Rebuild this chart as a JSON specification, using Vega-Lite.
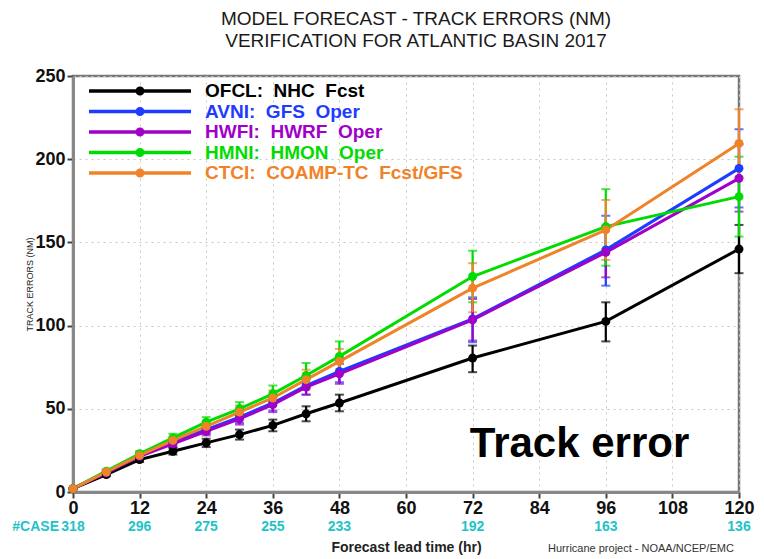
{
  "$schema": "https://vega.github.io/schema/vega-lite/v6.json",
  "width": 666,
  "height": 416,
  "autosize": "none",
  "padding": {"left": 73, "top": 76, "right": 25, "bottom": 67},
  "background": "white",
  "title": {
    "text": ["MODEL FORECAST - TRACK ERRORS (NM)", "VERIFICATION FOR ATLANTIC BASIN 2017"],
    "anchor": "middle",
    "dx": 10,
    "offset": 16,
    "fontSize": 19,
    "font": "Liberation Sans",
    "fontWeight": "normal",
    "color": "#1a1a1a",
    "lineHeight": 22
  },
  "config": {
    "view": {"stroke": "#777777", "strokeWidth": 2.5},
    "font": "Liberation Sans"
  },
  "layer": [
    {
      "data": {
        "values": [
          {"series": "OFCL: NHC Fcst", "hour": 0, "error": 2, "lo": 2, "hi": 2},
          {"series": "OFCL: NHC Fcst", "hour": 6, "error": 10.5, "lo": 9.5, "hi": 11.5},
          {"series": "OFCL: NHC Fcst", "hour": 12, "error": 19.5, "lo": 18, "hi": 21},
          {"series": "OFCL: NHC Fcst", "hour": 18, "error": 24.5, "lo": 22.5, "hi": 26.5},
          {"series": "OFCL: NHC Fcst", "hour": 24, "error": 29.5, "lo": 27, "hi": 32},
          {"series": "OFCL: NHC Fcst", "hour": 30, "error": 34.5, "lo": 31.5, "hi": 37.5},
          {"series": "OFCL: NHC Fcst", "hour": 36, "error": 40, "lo": 36.5, "hi": 43.5},
          {"series": "OFCL: NHC Fcst", "hour": 42, "error": 47, "lo": 42.5, "hi": 51.5},
          {"series": "OFCL: NHC Fcst", "hour": 48, "error": 53.5, "lo": 48.5, "hi": 58.5},
          {"series": "OFCL: NHC Fcst", "hour": 72, "error": 80.5, "lo": 72, "hi": 88},
          {"series": "OFCL: NHC Fcst", "hour": 96, "error": 102.5, "lo": 90.5, "hi": 114},
          {"series": "OFCL: NHC Fcst", "hour": 120, "error": 146, "lo": 131.5, "hi": 160.5},
          {"series": "AVNI: GFS Oper", "hour": 0, "error": 2, "lo": 2, "hi": 2},
          {"series": "AVNI: GFS Oper", "hour": 6, "error": 12, "lo": 11, "hi": 13},
          {"series": "AVNI: GFS Oper", "hour": 12, "error": 22, "lo": 20.5, "hi": 23.5},
          {"series": "AVNI: GFS Oper", "hour": 18, "error": 30, "lo": 28, "hi": 32},
          {"series": "AVNI: GFS Oper", "hour": 24, "error": 37.5, "lo": 35, "hi": 40},
          {"series": "AVNI: GFS Oper", "hour": 30, "error": 45, "lo": 41.5, "hi": 48.5},
          {"series": "AVNI: GFS Oper", "hour": 36, "error": 53.5, "lo": 49, "hi": 58},
          {"series": "AVNI: GFS Oper", "hour": 42, "error": 64, "lo": 58.5, "hi": 69.5},
          {"series": "AVNI: GFS Oper", "hour": 48, "error": 72.5, "lo": 66, "hi": 79},
          {"series": "AVNI: GFS Oper", "hour": 72, "error": 104, "lo": 90, "hi": 117},
          {"series": "AVNI: GFS Oper", "hour": 96, "error": 145.5, "lo": 124, "hi": 166},
          {"series": "AVNI: GFS Oper", "hour": 120, "error": 194.5, "lo": 171, "hi": 218},
          {"series": "HWFI: HWRF Oper", "hour": 0, "error": 2, "lo": 2, "hi": 2},
          {"series": "HWFI: HWRF Oper", "hour": 6, "error": 11.5, "lo": 10.5, "hi": 12.5},
          {"series": "HWFI: HWRF Oper", "hour": 12, "error": 21.5, "lo": 20, "hi": 23},
          {"series": "HWFI: HWRF Oper", "hour": 18, "error": 29, "lo": 27, "hi": 31},
          {"series": "HWFI: HWRF Oper", "hour": 24, "error": 36.5, "lo": 34, "hi": 39},
          {"series": "HWFI: HWRF Oper", "hour": 30, "error": 44, "lo": 40.5, "hi": 47.5},
          {"series": "HWFI: HWRF Oper", "hour": 36, "error": 52.5, "lo": 48, "hi": 57},
          {"series": "HWFI: HWRF Oper", "hour": 42, "error": 63, "lo": 58.5, "hi": 68},
          {"series": "HWFI: HWRF Oper", "hour": 48, "error": 71, "lo": 65, "hi": 77},
          {"series": "HWFI: HWRF Oper", "hour": 72, "error": 103.5, "lo": 91, "hi": 116},
          {"series": "HWFI: HWRF Oper", "hour": 96, "error": 144, "lo": 129, "hi": 160},
          {"series": "HWFI: HWRF Oper", "hour": 120, "error": 188.5, "lo": 168.5, "hi": 209},
          {"series": "HMNI: HMON Oper", "hour": 0, "error": 2, "lo": 2, "hi": 2},
          {"series": "HMNI: HMON Oper", "hour": 6, "error": 12.5, "lo": 11.5, "hi": 13.5},
          {"series": "HMNI: HMON Oper", "hour": 12, "error": 23, "lo": 21.5, "hi": 24.5},
          {"series": "HMNI: HMON Oper", "hour": 18, "error": 32.5, "lo": 30, "hi": 35},
          {"series": "HMNI: HMON Oper", "hour": 24, "error": 42, "lo": 39, "hi": 45},
          {"series": "HMNI: HMON Oper", "hour": 30, "error": 50, "lo": 46, "hi": 54},
          {"series": "HMNI: HMON Oper", "hour": 36, "error": 59, "lo": 54, "hi": 64},
          {"series": "HMNI: HMON Oper", "hour": 42, "error": 70, "lo": 62.5, "hi": 77.5},
          {"series": "HMNI: HMON Oper", "hour": 48, "error": 81.5, "lo": 72.5, "hi": 90.5},
          {"series": "HMNI: HMON Oper", "hour": 72, "error": 129.5, "lo": 114, "hi": 145},
          {"series": "HMNI: HMON Oper", "hour": 96, "error": 159.5, "lo": 136, "hi": 182},
          {"series": "HMNI: HMON Oper", "hour": 120, "error": 177.5, "lo": 153.5, "hi": 201.5},
          {"series": "CTCI: COAMP-TC Fcst/GFS", "hour": 0, "error": 2, "lo": 2, "hi": 2},
          {"series": "CTCI: COAMP-TC Fcst/GFS", "hour": 6, "error": 12, "lo": 11, "hi": 13},
          {"series": "CTCI: COAMP-TC Fcst/GFS", "hour": 12, "error": 22, "lo": 20.5, "hi": 23.5},
          {"series": "CTCI: COAMP-TC Fcst/GFS", "hour": 18, "error": 31, "lo": 29, "hi": 33},
          {"series": "CTCI: COAMP-TC Fcst/GFS", "hour": 24, "error": 39.5, "lo": 36.5, "hi": 42.5},
          {"series": "CTCI: COAMP-TC Fcst/GFS", "hour": 30, "error": 48, "lo": 44, "hi": 52},
          {"series": "CTCI: COAMP-TC Fcst/GFS", "hour": 36, "error": 56.5, "lo": 52, "hi": 61},
          {"series": "CTCI: COAMP-TC Fcst/GFS", "hour": 42, "error": 67.5, "lo": 61.5, "hi": 73.5},
          {"series": "CTCI: COAMP-TC Fcst/GFS", "hour": 48, "error": 78.5, "lo": 71, "hi": 86},
          {"series": "CTCI: COAMP-TC Fcst/GFS", "hour": 72, "error": 122.5, "lo": 108, "hi": 137.5},
          {"series": "CTCI: COAMP-TC Fcst/GFS", "hour": 96, "error": 157.5, "lo": 139.5, "hi": 175.5},
          {"series": "CTCI: COAMP-TC Fcst/GFS", "hour": 120, "error": 209.5, "lo": 189.5, "hi": 230}
        ]
      },
      "encoding": {
        "x": {
          "field": "hour",
          "type": "quantitative",
          "scale": {"domain": [0, 120], "nice": false, "zero": false},
          "axis": {
            "values": [0, 12, 24, 36, 48, 60, 72, 84, 96, 108, 120],
            "title": "Forecast lead time (hr)",
            "titleFontSize": 14,
            "titleFontWeight": "bold",
            "titleColor": "#222222",
            "titlePadding": 23,
            "labelFontSize": 18,
            "labelFontWeight": "bold",
            "labelColor": "#111111",
            "labelPadding": 1,
            "labelFlush": false,
            "labelOverlap": false,
            "tickSize": 6,
            "tickWidth": 2,
            "tickColor": "#444444",
            "domainColor": "#888888",
            "domainWidth": 3,
            "grid": true,
            "gridDash": [2, 4],
            "gridColor": "#c8c8c8",
            "gridWidth": 1
          }
        },
        "color": {
          "field": "series",
          "type": "nominal",
          "scale": {
            "domain": ["OFCL: NHC Fcst", "AVNI: GFS Oper", "HWFI: HWRF Oper", "HMNI: HMON Oper", "CTCI: COAMP-TC Fcst/GFS"],
            "range": ["#000000", "#1e3cff", "#a000c8", "#00dc00", "#f08228"]
          },
          "legend": {
            "title": null,
            "orient": "none",
            "legendX": 57,
            "legendY": 5,
            "symbolType": "M-5.1,-0.17H5.1V0.17H-5.1Z M-0.45,0A0.45,0.45 0 1,1 0.45,0A0.45,0.45 0 1,1 -0.45,0Z",
            "symbolSize": 400,
            "symbolStrokeWidth": 0,
            "labelFontSize": 19,
            "labelFont": "Liberation Sans",
            "labelFontWeight": "bold",
            "labelOffset": 55,
            "labelLimit": 400,
            "labelExpr": "replace(datum.label, regexp(' ', 'g'), '\u00a0\u00a0')",
            "rowPadding": 0.5,
            "padding": 0,
            "encode": {
              "labels": {"update": {"fill": {"scale": "color", "field": "value"}}},
              "symbols": {"update": {"fill": {"scale": "color", "field": "value"}, "opacity": {"value": 1}, "strokeWidth": {"value": 0}}}
            }
          }
        }
      },
      "layer": [
        {
          "mark": {"type": "errorbar", "ticks": {"size": 9, "thickness": 2}, "thickness": 2.2},
          "encoding": {
            "y": {"field": "lo", "type": "quantitative", "title": "TRACK ERRORS (NM)", "scale": {"domain": [0, 250], "nice": false}},
            "y2": {"field": "hi"}
          }
        },
        {
          "mark": {"type": "line", "strokeWidth": 3},
          "encoding": {
            "y": {
              "field": "error",
              "type": "quantitative",
              "title": "TRACK ERRORS (NM)",
              "scale": {"domain": [0, 250], "nice": false},
              "axis": {
                "values": [0, 50, 100, 150, 200, 250],
                "labelFontSize": 18,
                "labelFontWeight": "bold",
                "labelColor": "#111111",
                "labelPadding": 2,
                "tickSize": 6,
                "tickWidth": 2,
                "tickColor": "#444444",
                "domainColor": "#888888",
                "domainWidth": 3,
                "grid": true,
                "gridDash": [2, 4],
                "gridColor": "#c8c8c8",
                "gridWidth": 1,
                "titleFontSize": 9,
                "titleFontWeight": "normal",
                "titleColor": "#222222",
                "titleX": -44,
                "titleY": 208,
                "titleAngle": 270,
                "titleBaseline": "middle",
                "titleAlign": "center"
              }
            }
          }
        },
        {
          "mark": {"type": "point", "filled": true, "size": 80, "opacity": 1},
          "encoding": {
            "y": {"field": "error", "type": "quantitative", "title": "TRACK ERRORS (NM)"}
          }
        }
      ]
    },
    {
      "data": {
        "values": [
          {"hour": 0, "cases": 318},
          {"hour": 12, "cases": 296},
          {"hour": 24, "cases": 275},
          {"hour": 36, "cases": 255},
          {"hour": 48, "cases": 233},
          {"hour": 72, "cases": 192},
          {"hour": 96, "cases": 163},
          {"hour": 120, "cases": 136}
        ]
      },
      "mark": {"type": "text", "dy": 35, "fontSize": 14, "fontWeight": "bold", "color": "#1fc3c8", "font": "Liberation Sans"},
      "encoding": {
        "x": {"field": "hour", "type": "quantitative"},
        "y": {"datum": 0},
        "text": {"field": "cases"}
      }
    },
    {
      "data": {"values": [{"label": "#CASE"}]},
      "mark": {"type": "text", "align": "right", "dx": -14, "dy": 35, "fontSize": 14, "fontWeight": "bold", "color": "#1fc3c8", "font": "Liberation Sans"},
      "encoding": {
        "x": {"datum": 0},
        "y": {"datum": 0},
        "text": {"field": "label"}
      }
    },
    {
      "data": {"values": [{"label": "Hurricane project - NOAA/NCEP/EMC"}]},
      "mark": {"type": "text", "align": "left", "dx": -191, "dy": 57, "fontSize": 11, "color": "#333333", "font": "Liberation Sans"},
      "encoding": {
        "x": {"datum": 120},
        "y": {"datum": 0},
        "text": {"field": "label"}
      }
    },
    {
      "data": {"values": [{"label": "Track error"}]},
      "mark": {"type": "text", "align": "left", "baseline": "alphabetic", "fontSize": 42, "fontWeight": "bold", "color": "#000000", "font": "Liberation Sans"},
      "encoding": {
        "x": {"datum": 71.5},
        "y": {"datum": 21},
        "text": {"field": "label"}
      }
    }
  ]
}
